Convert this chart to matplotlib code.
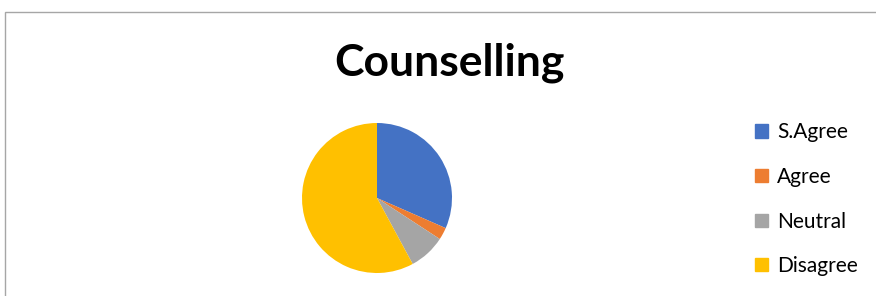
import matplotlib.pyplot as plt
from matplotlib.patches import Rectangle

# data
labels = ['S.Agree', 'Agree', 'Neutral', 'Disagree']
counts = [12, 1, 3, 22]
colors = ['#4472C4', '#ED7D31', '#A5A5A5', '#FFC000']

plt.rcParams['font.family'] = ['Lato', 'DejaVu Sans']

fig = plt.figure(figsize=(8.76, 2.96), dpi=100)

# chart frame (runs off the right and bottom edge)
fig.patches.append(Rectangle((5 / 876, -0.1), 1.2, (296 - 12) / 296 + 0.1,
                             transform=fig.transFigure, fill=False,
                             edgecolor='#A6A6A6', linewidth=1.0))

ax = fig.add_axes([(377 - 75) / 876, (296 - 198 - 75) / 296, 150 / 876, 150 / 296])
ax.pie(counts, colors=colors, startangle=90, counterclock=False,
       wedgeprops={'linewidth': 0})
ax.set_xlim(-1, 1)
ax.set_ylim(-1, 1)
ax.set_aspect('equal')

fig.text(449 / 876, 1 - 63 / 296, 'Counselling', ha='center', va='center',
         fontsize=32, fontweight='bold')

handles = [Rectangle((0, 0), 1, 1, color=c) for c in colors]
fig.legend(handles, labels, loc='upper left', bbox_to_anchor=(745 / 876, 1 - 112 / 296),
           frameon=False, fontsize=15, handlelength=0.6, handleheight=0.6,
           handletextpad=0.45, labelspacing=1.18, borderpad=0)

fig.savefig('out.png', dpi=100)
